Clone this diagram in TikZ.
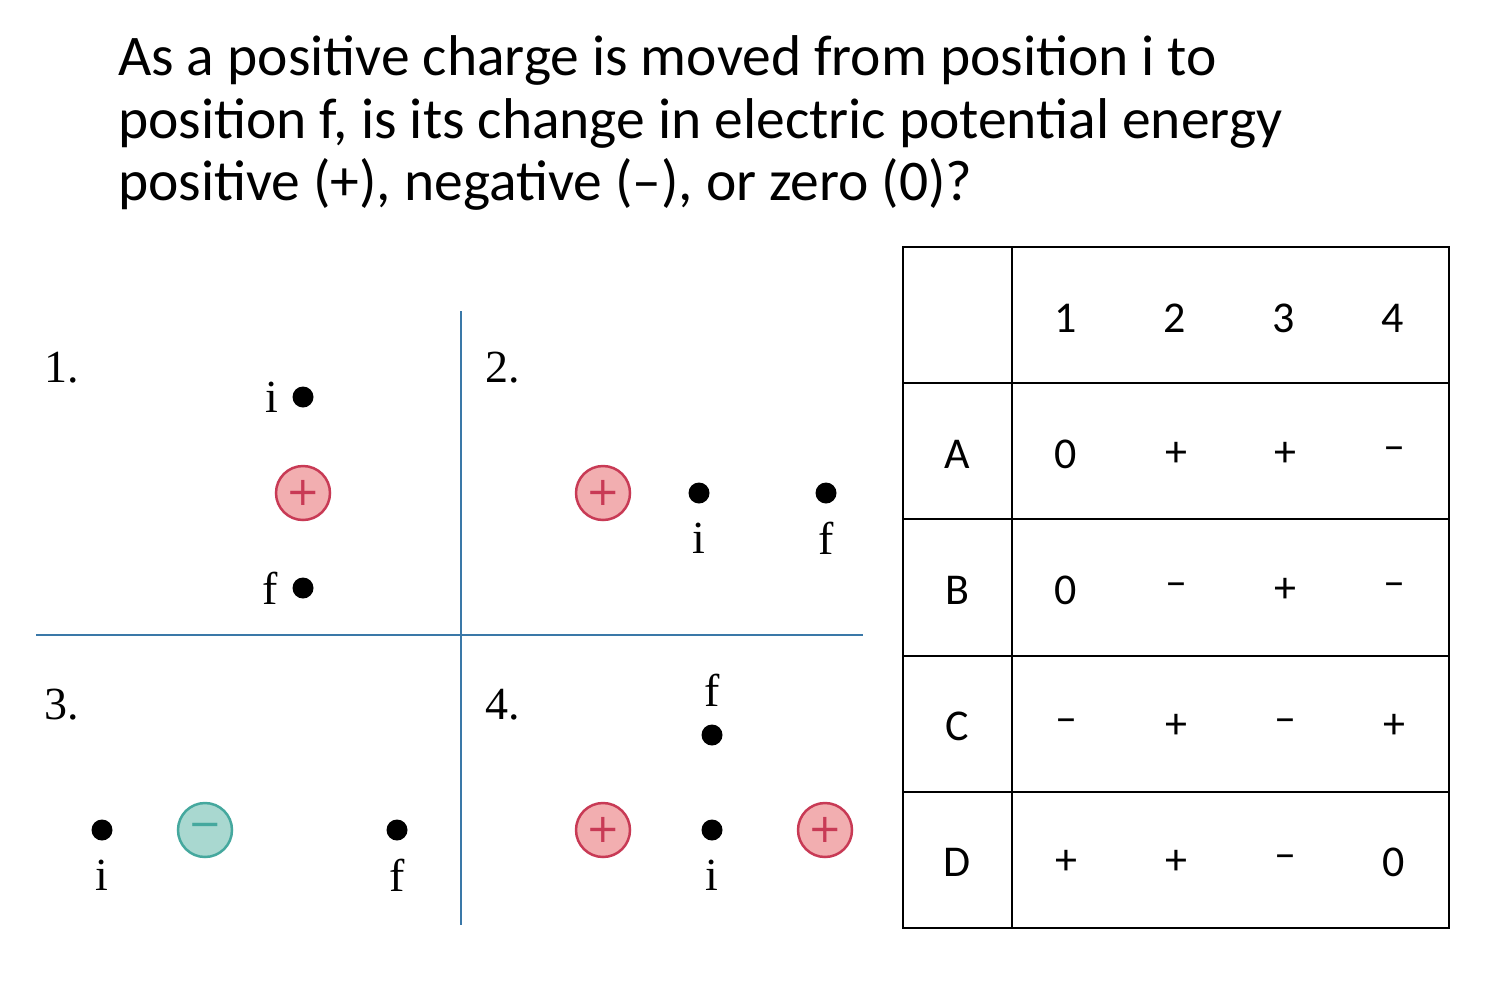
\documentclass[tikz,border=0pt]{standalone}
\usepackage{fontspec}
\setmainfont{Liberation Serif}
\newfontfamily\titlefont{Carlito}
\newfontfamily\signfont{DejaVu Sans}
\usetikzlibrary{positioning}

\definecolor{axisblue}{HTML}{3A78A8}
\definecolor{posfill}{HTML}{F2AEB0}
\definecolor{posline}{HTML}{C83A55}
\definecolor{negfill}{HTML}{A9D8D0}
\definecolor{negline}{HTML}{45A89E}

\tikzset{
  pcharge/.style={circle, draw=posline, line width=2.5pt, fill=posfill, minimum size=54pt, inner sep=0pt, text=posline, font=\signfont\fontsize{40}{40}\selectfont},
  ncharge/.style={circle, draw=negline, line width=2.5pt, fill=negfill, minimum size=54pt, inner sep=0pt, text=negline, font=\signfont\fontsize{40}{40}\selectfont},
  spot/.style={circle, fill=black, minimum size=21pt, inner sep=0pt},
  lbl/.style={font=\fontsize{46}{46}\selectfont, inner sep=0pt},
  cell/.style={font=\titlefont\fontsize{44}{44}\selectfont, inner sep=0pt},
  line/.style={anchor=base west, inner sep=0pt, font=\titlefont\fontsize{57.5}{57.5}\selectfont}
}

\begin{document}
\begin{tikzpicture}[x=1pt,y=-1pt]
    \useasboundingbox (0,0) rectangle (1487,980);

    % Question
    \node[line] (q1) at (118,75) {As a positive charge is moved from position i to};
    \node[line] (q2) at (118,138) {position f, is its change in electric potential energy};
    \node[line] (q3) at (118,200) {positive (+), negative (–), or zero (0)?};

    % Quadrant lines
    \draw[axisblue, line width=2pt] (461,311) -- (461,925);
    \draw[axisblue, line width=2pt] (36,635) -- (863,635);

    % Case 1
    \node[lbl] (n1) at (62,368) {1.};
    \node[spot] (i1) at (303,397) {};
    \node[lbl, left=14pt of i1] (li1) {i};
    \node[pcharge] (c1) at (303,493) {+};
    \node[spot] (f1) at (303,588) {};
    \node[lbl, left=14pt of f1] (lf1) {f};

    % Case 2
    \node[lbl] (n2) at (503,368) {2.};
    \node[pcharge] (c2) at (603,493) {+};
    \node[spot] (i2) at (699,493) {};
    \node[lbl] (li2) at (699,538) {i};
    \node[spot] (f2) at (826,493) {};
    \node[lbl] (lf2) at (826,538) {f};

    % Case 3
    \node[lbl] (n3) at (62,705) {3.};
    \node[spot] (i3) at (102,830) {};
    \node[lbl] (li3) at (102,875) {i};
    \node[ncharge] (c3) at (205,830) {−};
    \node[spot] (f3) at (397,830) {};
    \node[lbl] (lf3) at (397,875) {f};

    % Case 4
    \node[lbl] (n4) at (503,705) {4.};
    \node[lbl] (lf4) at (712,690) {f};
    \node[spot] (f4) at (712,735) {};
    \node[pcharge] (c4a) at (603,830) {+};
    \node[spot] (i4) at (712,830) {};
    \node[lbl] (li4) at (712,875) {i};
    \node[pcharge] (c4b) at (825,830) {+};

    % Answer table
    \draw[line width=1.5pt] (903,247) rectangle (1449,928);
    \draw[line width=1.5pt] (1012,247) -- (1012,928);
    \foreach \y in {383,519,656,792}
      \draw[line width=1.5pt] (903,\y) -- (1449,\y);
    \foreach \h [count=\k] in {1,2,3,4}
      \node[cell] (h\k) at (957+\k*109,318) {\h};
    \foreach \r/\a/\b/\c/\d [count=\k] in {A/0/+/+/–, B/0/–/+/–, C/–/+/–/+, D/+/+/–/0} {
      \node[cell] (r\k) at (957,318+\k*136) {\r};
      \node[cell] at (1066,318+\k*136) {\a};
      \node[cell] at (1176,318+\k*136) {\b};
      \node[cell] at (1285,318+\k*136) {\c};
      \node[cell] at (1394,318+\k*136) {\d};
    }
\end{tikzpicture}
\end{document}
